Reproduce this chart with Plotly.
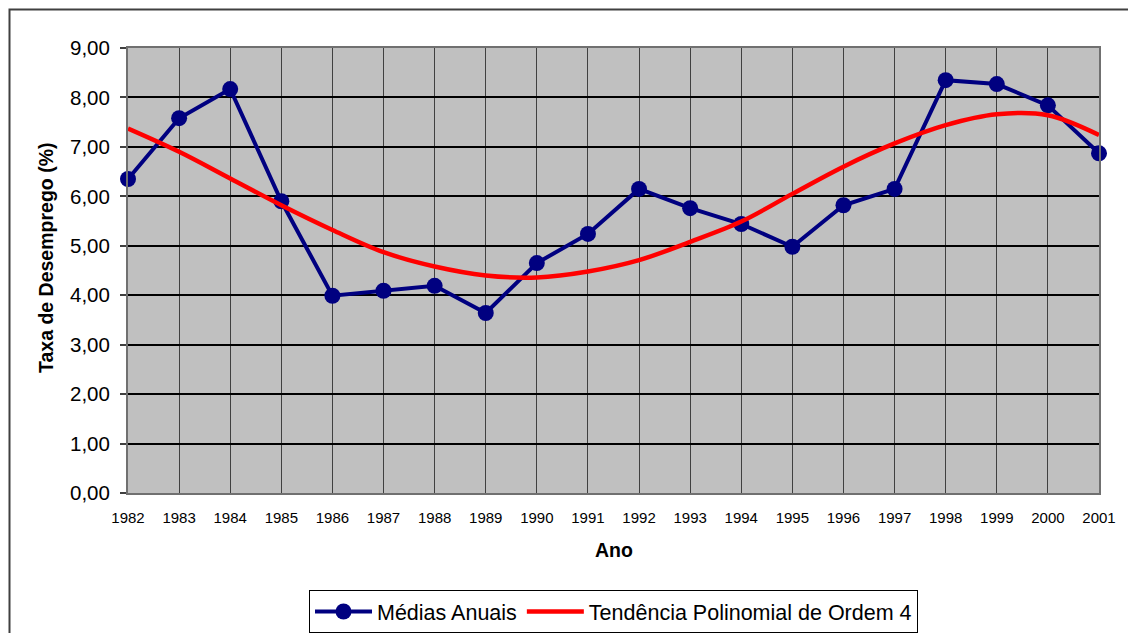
import plotly.graph_objects as go

years = list(range(1982, 2002))
medias_anuais = [6.35, 7.58, 8.17, 5.90, 3.99, 4.09, 4.19, 3.64, 4.65, 5.24,
                 6.15, 5.76, 5.44, 4.98, 5.82, 6.15, 8.35, 8.27, 7.84, 6.87]
tendencia = [7.37, 6.90, 6.36, 5.82, 5.32, 4.87, 4.58, 4.40, 4.36, 4.48,
             4.71, 5.08, 5.49, 6.05, 6.60, 7.07, 7.44, 7.66, 7.64, 7.24]
y_ticks = [0, 1, 2, 3, 4, 5, 6, 7, 8, 9]

FONT = "Liberation Sans, Arial, sans-serif"

# page body has an 8px margin; plot area wanted at x 128..1099, y 48..493
OFF = 8
W, H = 1136 - OFF, 633 - OFF
PL, PR, PT, PB = 128, 1099, 48, 493
PW, PH = PR - PL, PB - PT


def px(x):
    return (x - PL) / PW


def py(y):
    return (PB - y) / PH


fig = go.Figure()
fig.add_trace(go.Scatter(
    x=years, y=medias_anuais, name="Médias Anuais", mode="lines+markers",
    line=dict(color="#000080", width=4),
    marker=dict(color="#000080", size=16),
    cliponaxis=False,
))
fig.add_trace(go.Scatter(
    x=years, y=tendencia, name="Tendência Polinomial de Ordem 4", mode="lines",
    line=dict(color="#FF0000", width=4.5, shape="spline", smoothing=1.0),
    cliponaxis=False,
))

fig.update_layout(
    width=W, height=H,
    margin=dict(l=PL - OFF, r=1136 - PR, t=PT - OFF, b=633 - PB),
    paper_bgcolor="white", plot_bgcolor="#C0C0C0",
    separators=",.",
    font=dict(family=FONT, color="black"),
    showlegend=True,
    legend=dict(
        orientation="h", x=0.5, xanchor="center",
        yref="container", y=1 - (590 - OFF) / H, yanchor="top",
        bordercolor="black", borderwidth=1, bgcolor="white",
        font=dict(size=21.5, family=FONT), itemwidth=57,
    ),
    xaxis=dict(
        range=[1982, 2001], tickmode="array", tickvals=years,
        ticktext=[str(y) for y in years],
        tickfont=dict(size=15, family=FONT),
        showgrid=True, gridcolor="#404040", gridwidth=1,
        showline=True, linecolor="#707070", linewidth=2, mirror=True,
        ticks="", zeroline=False, ticklabelstandoff=10, automargin=False,
    ),
    yaxis=dict(
        range=[0, 9], tickmode="array", tickvals=y_ticks, tickformat=".2f",
        tickfont=dict(size=20.5, family=FONT),
        showgrid=True, gridcolor="black", gridwidth=1.5,
        showline=True, linecolor="#707070", linewidth=2, mirror=True,
        ticks="outside", ticklen=6, tickcolor="#404040", tickwidth=1.5,
        zeroline=False, ticklabelstandoff=6, automargin=False,
    ),
    annotations=[
        dict(text="<b>Ano</b>", xref="paper", yref="paper", x=0.5,
             y=py(550), xanchor="center", yanchor="middle",
             showarrow=False, font=dict(size=19.5, family=FONT)),
        dict(text="<b>Taxa de Desemprego (%)</b>", xref="paper", yref="paper",
             x=px(46), y=py(258), xanchor="center",
             yanchor="middle", textangle=-90, showarrow=False,
             font=dict(size=19.5, family=FONT)),
    ],
    shapes=[
        dict(type="rect", xref="paper", yref="paper",
             x0=px(9.5), x1=px(1160), y0=py(660), y1=py(9.5),
             line=dict(color="#404040", width=2), layer="below"),
    ],
)

fig.write_html("out.html")
